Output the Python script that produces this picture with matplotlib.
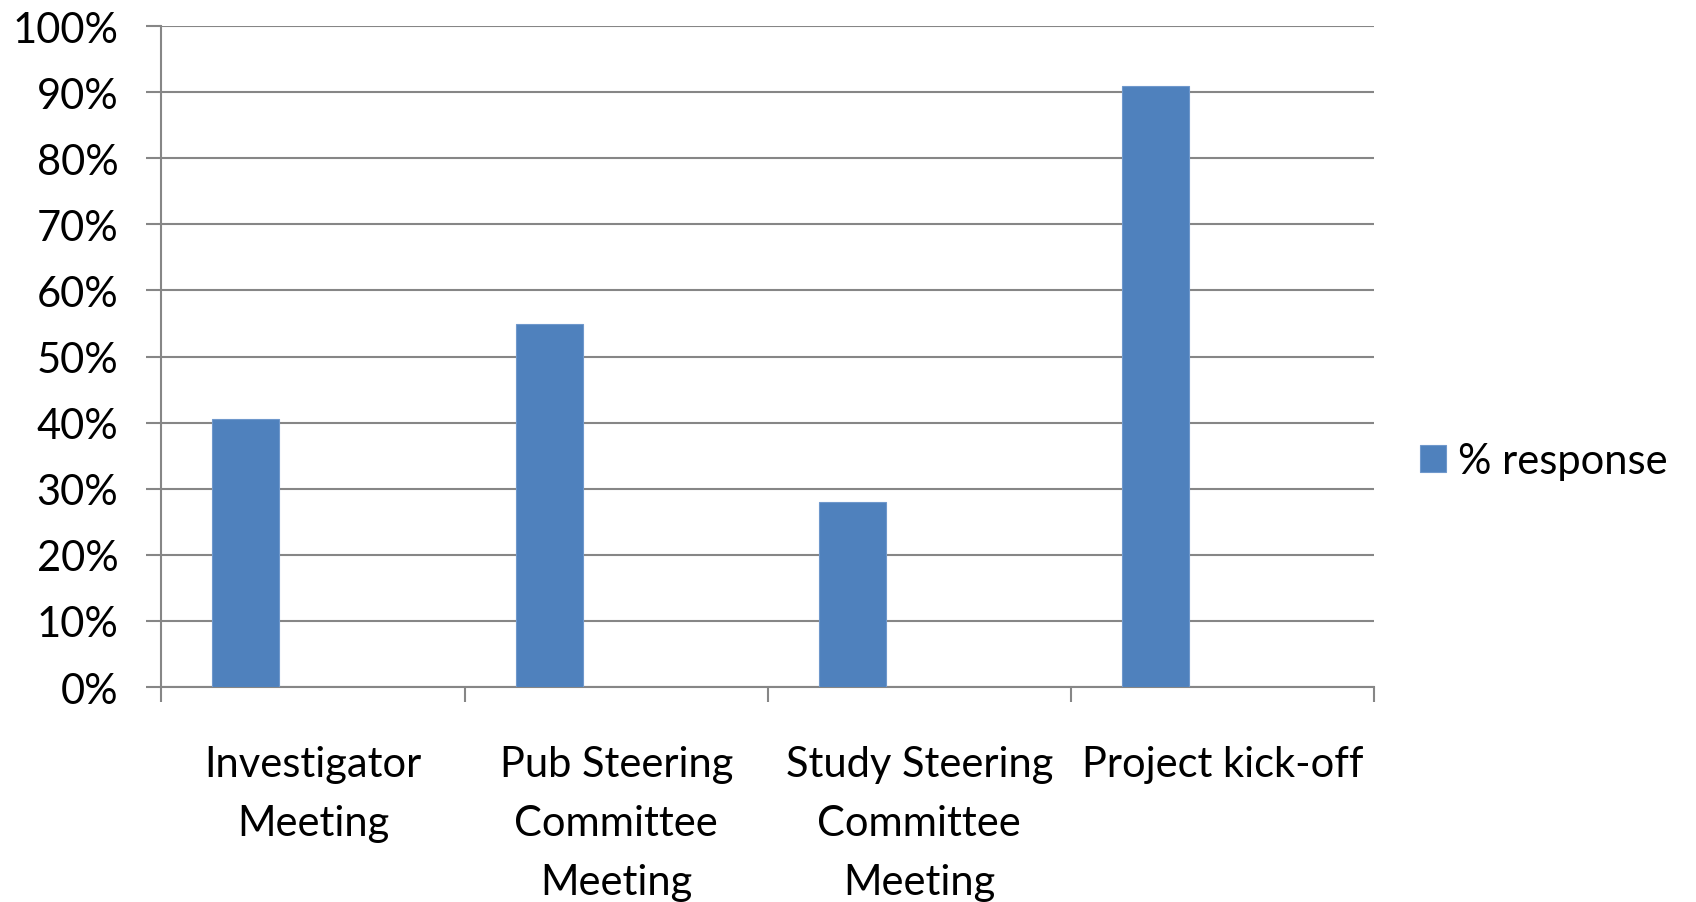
import matplotlib
matplotlib.use("Agg")
import matplotlib.pyplot as plt
import numpy as np

# chart data
categories = ["Investigator\nMeeting",
              "Pub Steering\nCommittee\nMeeting",
              "Study Steering\nCommittee\nMeeting",
              "Project kick-off"]
responses = [40.5, 55.0, 28.0, 91.0]
yticks = [0, 10, 20, 30, 40, 50, 60, 70, 80, 90, 100]
seriesName = "% response"

plt.rcParams['font.family'] = ['Lato', 'DejaVu Sans']
gridColor = "#868686"
barColor = "#4F81BD"
fontSize = 30

fig = plt.figure(figsize=(16.96, 9.03), dpi=100)
ax = fig.add_axes([0.0952, 0.238, 0.715, 0.732])

x = np.arange(len(categories))
width = 0.2214
# bar sits one bar-width left of the category centre (excel cluster slot)
ax.bar(x - width, responses, width, color=barColor, edgecolor="#6f98cc",
       linewidth=0.8, label=seriesName, zorder=3)

ax.set_xlim(-0.5, len(categories) - 0.5)
ax.set_ylim(0, 100)

# gridlines and ticks
ax.set_yticks(yticks)
ax.set_yticklabels([str(t) + "%" for t in yticks], fontsize=fontSize)
ax.yaxis.grid(True, color=gridColor, linewidth=1.5, zorder=0)
ax.tick_params(axis="y", length=11, width=1.5, color=gridColor, pad=20)

ax.set_xticks(np.arange(len(categories) + 1) - 0.5)
ax.set_xticklabels([])
ax.tick_params(axis="x", which="major", length=11, width=1.5, color=gridColor)
ax.set_xticks(x, minor=True)
ax.set_xticklabels(categories, minor=True, fontsize=fontSize, linespacing=1.67)
ax.tick_params(axis="x", which="minor", length=0, pad=42)

for side in ["top", "right"]:
    ax.spines[side].set_visible(False)
for side in ["left", "bottom"]:
    ax.spines[side].set_color(gridColor)
    ax.spines[side].set_linewidth(1.5)

fig.legend(loc="center left", bbox_to_anchor=(1420 / 1696, 1 - 462 / 903),
           frameon=False, fontsize=fontSize, handlelength=0.62,
           handleheight=0.62, handletextpad=0.3, borderpad=0, borderaxespad=0)

fig.savefig("out.png", dpi=100)
